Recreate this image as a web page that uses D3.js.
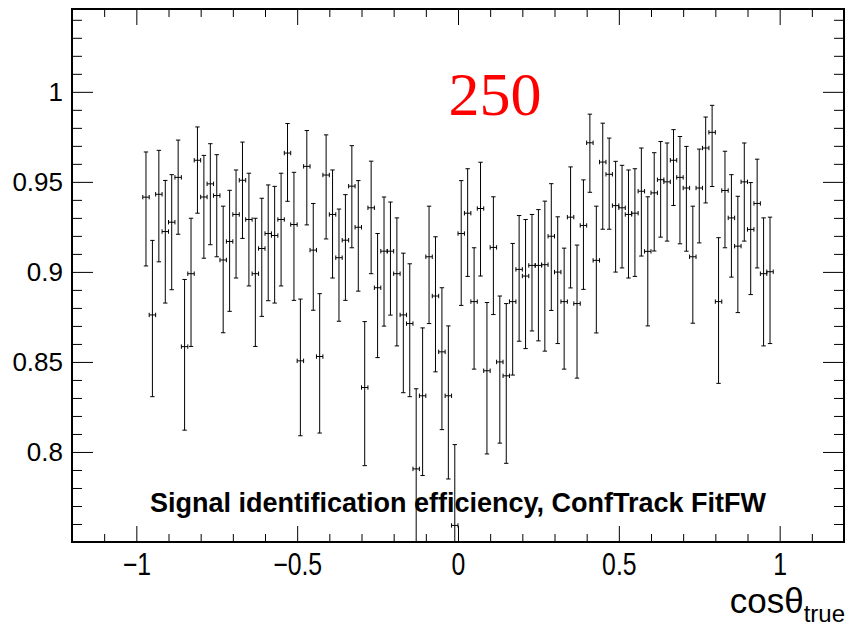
<!DOCTYPE html>
<html><head><meta charset="utf-8">
<script src="https://cdn.jsdelivr.net/npm/d3@7"></script>
<style>
html,body{margin:0;padding:0;background:#fff;}
svg{display:block;}
</style></head>
<body>
<script>
// ---- data ----
const binCenters = [
-0.97,-0.95,-0.93,-0.91,-0.89,-0.87,-0.85,-0.83,-0.81,-0.79,
-0.77,-0.75,-0.73,-0.71,-0.69,-0.67,-0.65,-0.63,-0.61,-0.59,
-0.57,-0.55,-0.53,-0.51,-0.49,-0.47,-0.45,-0.43,-0.41,-0.39,
-0.37,-0.35,-0.33,-0.31,-0.29,-0.27,-0.25,-0.23,-0.21,-0.19,
-0.17,-0.15,-0.13,-0.11,-0.09,-0.07,-0.05,-0.03,-0.01,0.01,
0.03,0.05,0.07,0.09,0.11,0.13,0.15,0.17,0.19,0.21,
0.23,0.25,0.27,0.29,0.31,0.33,0.35,0.37,0.39,0.41,
0.43,0.45,0.47,0.49,0.51,0.53,0.55,0.57,0.59,0.61,
0.63,0.65,0.67,0.69,0.71,0.73,0.75,0.77,0.79,0.81,
0.83,0.85,0.87,0.89,0.91,0.93,0.95,0.97];
const binHalfWidth = 0.01;
const efficiency = [
0.9415,0.8761,0.9431,0.9224,0.9276,0.9525,0.8585,0.8990,0.9620,0.9416,
0.9489,0.9424,0.9066,0.9169,0.9319,0.9509,0.9291,0.8990,0.9130,0.9213,
0.9202,0.9291,0.9660,0.9263,0.8506,0.9586,0.9121,0.8530,0.9538,0.9319,
0.9079,0.9176,0.9476,0.9248,0.8358,0.9356,0.8912,0.9115,0.9115,0.8990,
0.8761,0.8713,0.7906,0.8312,0.9084,0.8866,0.8556,0.8312,0.7592,0.9213,
0.9326,0.8835,0.9352,0.8451,0.9136,0.8500,0.8423,0.8835,0.9014,0.8977,
0.9036,0.9036,0.9040,0.9198,0.8999,0.8835,0.9304,0.8824,0.9258,0.9717,
0.9064,0.9610,0.9542,0.9368,0.9356,0.9319,0.9326,0.9448,0.9114,0.9439,
0.9512,0.9500,0.9620,0.9525,0.9466,0.9084,0.9466,0.9688,0.9775,0.8835,
0.9452,0.9300,0.9143,0.9500,0.9236,0.9380,0.8990,0.9001];
const errHigh = [
0.0251,0.0414,0.0244,0.0284,0.0264,0.0207,0.0373,0.0308,0.0185,0.0231,
0.0223,0.0227,0.0299,0.0284,0.0247,0.0212,0.0257,0.0308,0.0279,0.0270,
0.0273,0.0257,0.0164,0.0290,0.0343,0.0199,0.0259,0.0349,0.0223,0.0247,
0.0270,0.0253,0.0225,0.0259,0.0366,0.0259,0.0301,0.0301,0.0273,0.0310,
0.0343,0.0332,0.0445,0.0377,0.0281,0.0329,0.0356,0.0388,0.0449,0.0294,
0.0247,0.0299,0.0257,0.0379,0.0281,0.0366,0.0401,0.0323,0.0299,0.0314,
0.0283,0.0310,0.0353,0.0292,0.0307,0.0297,0.0279,0.0325,0.0253,0.0159,
0.0301,0.0216,0.0201,0.0246,0.0236,0.0247,0.0247,0.0240,0.0303,0.0223,
0.0212,0.0216,0.0170,0.0227,0.0231,0.0281,0.0216,0.0172,0.0150,0.0355,
0.0218,0.0240,0.0277,0.0216,0.0260,0.0246,0.0310,0.0303];
const errLow = [
0.0382,0.0454,0.0375,0.0397,0.0375,0.0316,0.0464,0.0404,0.0294,0.0340,
0.0338,0.0340,0.0404,0.0388,0.0353,0.0323,0.0369,0.0404,0.0377,0.0373,
0.0375,0.0369,0.0268,0.0421,0.0416,0.0325,0.0334,0.0425,0.0355,0.0353,
0.0353,0.0334,0.0342,0.0355,0.0434,0.0366,0.0388,0.0416,0.0355,0.0401,
0.0432,0.0406,0.0499,0.0443,0.0371,0.0421,0.0432,0.0462,0.0500,0.0399,
0.0351,0.0375,0.0375,0.0462,0.0373,0.0451,0.0486,0.0408,0.0399,0.0403,
0.0364,0.0419,0.0480,0.0412,0.0397,0.0375,0.0393,0.0414,0.0355,0.0275,
0.0403,0.0373,0.0305,0.0369,0.0334,0.0353,0.0351,0.0360,0.0414,0.0323,
0.0319,0.0329,0.0251,0.0369,0.0351,0.0369,0.0305,0.0305,0.0301,0.0454,
0.0318,0.0329,0.0369,0.0329,0.0362,0.0358,0.0401,0.0399];
const xMajorTicks = [-1, -0.5, 0, 0.5, 1];
const xMajorLabels = ["\u22121", "\u22120.5", "0", "0.5", "1"];
const xMinorTicks = [-1.1,-0.9,-0.8,-0.7,-0.6,-0.4,-0.3,-0.2,-0.1,0.1,0.2,0.3,0.4,0.6,0.7,0.8,0.9,1.1];
const yMajorTicks = [0.8, 0.85, 0.9, 0.95, 1];
const yMajorLabels = ["0.8", "0.85", "0.9", "0.95", "1"];
const yMinorTicks = [0.76,0.77,0.78,0.79,0.81,0.82,0.83,0.84,0.86,0.87,0.88,0.89,0.91,0.92,0.93,0.94,0.96,0.97,0.98,0.99,1.01,1.02,1.03,1.04];
const titleText = "Signal identification efficiency, ConfTrack FitFW";
const overlayText = "250";

// ---- layout ----
const W = 847, H = 629;
const L = 72, R = 844, T = 9, B = 542;
const x = d3.scaleLinear().domain([-1.2, 1.2]).range([L, R]);
const y = d3.scaleLinear().domain([0.75, 1.046]).range([B, T]);

const svg = d3.select("body").append("svg").attr("width", W).attr("height", H);

svg.append("defs").append("clipPath").attr("id", "frameClip")
  .append("rect").attr("x", L).attr("y", T).attr("width", R - L).attr("height", B - T);

function styleAxis(g) {
  g.select(".domain").remove();
  g.selectAll(".tick line").attr("stroke", "#000").attr("stroke-width", 1);
}
const fontSans = "'Liberation Sans', Arial, Helvetica, sans-serif";

// left
svg.append("g").attr("transform", `translate(${L},0)`)
  .call(d3.axisLeft(y).tickValues(yMinorTicks).tickSize(-10).tickFormat(""))
  .call(styleAxis);
const gl = svg.append("g").attr("transform", `translate(${L},0)`)
  .call(d3.axisLeft(y).tickValues(yMajorTicks).tickSize(-21).tickPadding(9)
    .tickFormat((d, i) => yMajorLabels[i]))
  .call(styleAxis);
gl.selectAll(".tick text").attr("font-family", fontSans).attr("font-size", 26).attr("fill", "#000");
// right
svg.append("g").attr("transform", `translate(${R},0)`)
  .call(d3.axisRight(y).tickValues(yMinorTicks).tickSize(-10).tickFormat(""))
  .call(styleAxis);
svg.append("g").attr("transform", `translate(${R},0)`)
  .call(d3.axisRight(y).tickValues(yMajorTicks).tickSize(-21).tickFormat(""))
  .call(styleAxis);
// bottom
svg.append("g").attr("transform", `translate(0,${B})`)
  .call(d3.axisBottom(x).tickValues(xMinorTicks).tickSize(-8).tickFormat(""))
  .call(styleAxis);
const gb = svg.append("g").attr("transform", `translate(0,${B})`)
  .call(d3.axisBottom(x).tickValues(xMajorTicks).tickSize(-16).tickPadding(11)
    .tickFormat((d, i) => xMajorLabels[i]))
  .call(styleAxis);
gb.selectAll(".tick text").attr("font-family", fontSans).attr("font-size", 31).attr("fill", "#000")
  .attr("dy", "0.71em").attr("x", 0).attr("transform", "scale(0.8,1)");
// top
svg.append("g").attr("transform", `translate(0,${T})`)
  .call(d3.axisTop(x).tickValues(xMinorTicks).tickSize(-8).tickFormat(""))
  .call(styleAxis);
svg.append("g").attr("transform", `translate(0,${T})`)
  .call(d3.axisTop(x).tickValues(xMajorTicks).tickSize(-16).tickFormat(""))
  .call(styleAxis);

// data
const pts = binCenters.map((c, i) => ({c, v: efficiency[i], hi: efficiency[i] + errHigh[i], lo: efficiency[i] - errLow[i]}));
const gd = svg.append("g").attr("clip-path", "url(#frameClip)")
  .attr("stroke", "#000").attr("stroke-width", 1).attr("fill", "none");
const capV = 2.2, capH = 2.2;
const pg = gd.selectAll("g.pt").data(pts).join("g").attr("class", "pt");
pg.append("line").attr("x1", d => x(d.c)).attr("x2", d => x(d.c)).attr("y1", d => y(d.hi)).attr("y2", d => y(d.lo));
pg.append("line").attr("x1", d => x(d.c) - capV).attr("x2", d => x(d.c) + capV).attr("y1", d => y(d.hi)).attr("y2", d => y(d.hi));
pg.append("line").attr("x1", d => x(d.c) - capV).attr("x2", d => x(d.c) + capV).attr("y1", d => y(d.lo)).attr("y2", d => y(d.lo));
pg.append("line").attr("x1", d => x(d.c - binHalfWidth)).attr("x2", d => x(d.c + binHalfWidth)).attr("y1", d => y(d.v)).attr("y2", d => y(d.v));
pg.append("line").attr("x1", d => x(d.c - binHalfWidth)).attr("x2", d => x(d.c - binHalfWidth)).attr("y1", d => y(d.v) - capH).attr("y2", d => y(d.v) + capH);
pg.append("line").attr("x1", d => x(d.c + binHalfWidth)).attr("x2", d => x(d.c + binHalfWidth)).attr("y1", d => y(d.v) - capH).attr("y2", d => y(d.v) + capH);

// frame
svg.append("rect").attr("x", L).attr("y", T).attr("width", R - L).attr("height", B - T)
  .attr("fill", "none").attr("stroke", "#000").attr("stroke-width", 2);

// texts
svg.append("text").attr("x", x(0)).attr("y", 512).attr("text-anchor", "middle")
  .attr("font-family", fontSans).attr("font-weight", "bold").attr("font-size", 27)
  .text(titleText);
svg.append("text").attr("x", 495).attr("y", 115).attr("text-anchor", "middle")
  .attr("font-family", "'Liberation Serif', 'Times New Roman', serif").attr("font-size", 62)
  .attr("fill", "#ff0000").text(overlayText);
const at = svg.append("text").attr("x", 845).attr("y", 613).attr("text-anchor", "end")
  .attr("font-family", fontSans).attr("font-size", 35).attr("fill", "#000");
at.append("tspan").text("cos\u03B8");
at.append("tspan").attr("font-size", 24).attr("dy", 9).text("true");
</script>
</body></html>
